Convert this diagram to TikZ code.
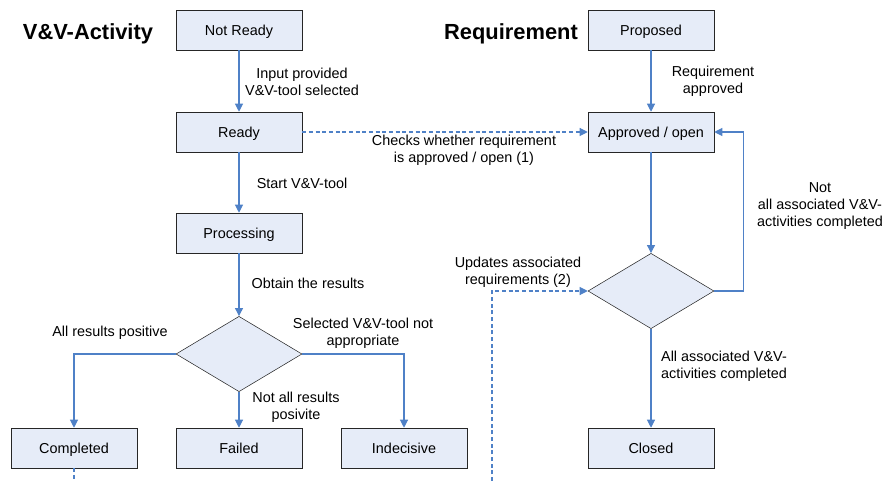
\documentclass[tikz,border=0pt]{standalone}
\usepackage{fontspec}
\setmainfont{Liberation Sans}
\usetikzlibrary{shapes.geometric,arrows.meta}
\definecolor{boxfill}{RGB}{230,236,248}
\definecolor{flowblue}{RGB}{79,129,199}
\begin{document}
\begin{tikzpicture}[x=.75pt, y=-.75pt, >={Triangle[length=6pt,width=6pt]},
  state/.style={draw=black!85, fill=boxfill, minimum width=94.5pt, minimum height=30pt, text height=7.8pt, text depth=0pt, font=\fontsize{10.8}{12}\selectfont},
  decision/.style={draw=black!85, fill=boxfill, diamond, minimum width=94.5pt, minimum height=56.5pt, inner sep=0pt},
  flow/.style={->, flowblue, line width=.8pt},
  hint/.style={->, flowblue, line width=.8pt, dash pattern=on 3pt off 2pt},
  lbl/.style={align=center, font=\fontsize{10.8}{12.75}\selectfont, inner sep=0pt},
  heading/.style={font=\fontsize{16.4}{18}\selectfont\bfseries}]
\useasboundingbox (0,0) rectangle (885,481);
% V&V-activity side
\node[heading] (acttitle) at (88,34) {V\&V-Activity};
\node[state] (notready) at (239,30) {Not Ready};
\node[state] (ready) at (239,132) {Ready};
\node[state] (processing) at (239,233) {Processing};
\node[decision] (result) at (239,354) {};
\node[state] (completed) at (74,448) {Completed};
\node[state] (failed) at (239,448) {Failed};
\node[state] (indecisive) at (404,448) {Indecisive};
% requirement side
\node[heading] (reqtitle) at (511,34) {Requirement};
\node[state] (proposed) at (651,30) {Proposed};
\node[state] (approved) at (651,132) {Approved / open};
\node[decision] (alldone) at (651,291) {};
\node[state] (closed) at (651,448) {Closed};
\coordinate (updfoot) at (492,481);
\coordinate (compfoot) at (74,481);

\draw[flow] (notready)--(ready);
\draw[flow] (ready)--(processing);
\draw[flow] (processing)--(result);
\draw[flow] (result.west)-|(completed.north);
\draw[flow] (result)--(failed);
\draw[flow] (result.east)-|(indecisive.north);
\draw[flow] (proposed)--(approved);
\draw[flow] (approved)--(alldone);
\draw[flow] (alldone.east)--++(29,0)|-(approved.east);
\draw[flow] (alldone)--(closed);
\draw[hint] (ready)--(approved);
\draw[hint] (updfoot)|-(alldone.west);
\draw[flowblue, line width=.8pt, dash pattern=on 3pt off 2pt] (completed.south)--(compfoot);

\node[lbl] (linput) at (302,81.5) {Input provided\\V\&V-tool selected};
\node[lbl] (lstart) at (302,183) {Start V\&V-tool};
\node[lbl] (lobtain) at (308,283) {Obtain the results};
\node[lbl] (lallpos) at (110,333) {All results positive};
\node[lbl] (lnotall) at (296,407) {Not all results\\posivite};
\node[lbl] (lselected) at (363,333.5) {Selected V\&V-tool not\\appropriate};
\node[lbl] (lchecks) at (464,150) {Checks whether requirement\\is approved / open (1)};
\node[lbl] (lreqappr) at (713,81.5) {Requirement\\approved};
\node[lbl] (lnot) at (820,206) {Not\\all associated V\&V-\\activities completed};
\node[lbl, align=left] (lallassoc) at (724,366.5) {All associated V\&V-\\activities completed};
\node[lbl] (lupdates) at (518,272.5) {Updates associated\\requirements (2)};
\end{tikzpicture}
\end{document}
